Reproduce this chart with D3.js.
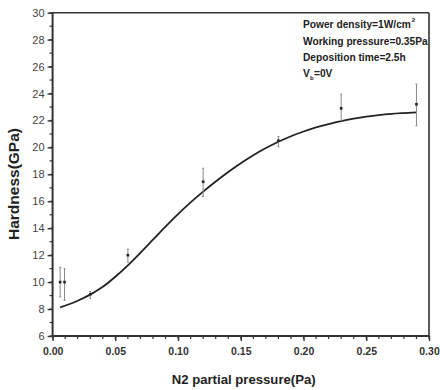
<!DOCTYPE html>
<html><head><meta charset="utf-8">
<script src="https://cdn.jsdelivr.net/npm/d3@7"></script>
<style>body{margin:0;background:#fff;}svg{display:block;}</style>
</head><body>
<svg id="c" width="440" height="390"></svg>
<script>
// Measured data points (N2 partial pressure, hardness, error half-widths)
const pressure = [0.006, 0.0095, 0.03, 0.06, 0.12, 0.18, 0.23, 0.29];
const hardness = [10.0, 10.0, 9.1, 12.0, 17.45, 20.5, 22.9, 23.2];
const errUp    = [1.1, 1.0, 0.2, 0.45, 1.0, 0.3, 1.05, 1.5];
const errDown  = [1.1, 1.35, 0.3, 0.5, 1.1, 0.45, 0.9, 1.6];
// Fitted curve
const fitX = [0.006,0.02,0.03,0.04,0.05,0.06,0.07,0.08,0.09,0.10,0.11,0.12,0.13,0.14,0.15,0.16,0.17,0.18,0.19,0.20,0.21,0.22,0.23,0.24,0.25,0.26,0.27,0.28,0.29];
const fitY = [8.12,8.62,9.07,9.65,10.4,11.25,12.18,13.15,14.12,15.05,15.92,16.72,17.47,18.18,18.83,19.42,19.95,20.42,20.83,21.18,21.48,21.73,21.95,22.13,22.28,22.4,22.49,22.55,22.6];
const xTicks = [0.00,0.05,0.10,0.15,0.20,0.25,0.30];
const yTicks = [6,8,10,12,14,16,18,20,22,24,26,28,30];
const notes = ["Power density=1W/cm", "Working pressure=0.35Pa", "Deposition time=2.5h", "V"];

const svg = d3.select("#c");
const L = 52.6, R = 429, T = 12.7, B = 336;
const x = d3.scaleLinear().domain([0, 0.30]).range([L, R]);
const y = d3.scaleLinear().domain([6, 30]).range([B, T]);
const axCol = "#333";
const nf = "Liberation Sans, Arial, sans-serif";

// minor ticks
const xMinor = d3.range(0, 31).map(i => i / 100);
const yMinor = d3.range(6, 31, 1);
svg.append("g").selectAll("line").data(xMinor).join("line")
  .attr("x1", d => x(d)).attr("x2", d => x(d)).attr("y1", B).attr("y2", B + 3)
  .attr("stroke", axCol).attr("stroke-width", 1.2);
svg.append("g").selectAll("line").data(yMinor).join("line")
  .attr("x1", L - 3).attr("x2", L).attr("y1", d => y(d)).attr("y2", d => y(d))
  .attr("stroke", axCol).attr("stroke-width", 1.2);

// axes
const xAxis = d3.axisBottom(x).tickValues(xTicks).tickFormat(d3.format(".2f")).tickSize(5).tickPadding(7);
const yAxis = d3.axisLeft(y).tickValues(yTicks).tickFormat(d3.format("d")).tickSize(5).tickPadding(3);
const gx = svg.append("g").attr("transform", `translate(0,${B})`).call(xAxis);
const gy = svg.append("g").attr("transform", `translate(${L},0)`).call(yAxis);
gx.select(".domain").remove(); gy.select(".domain").remove();
gx.selectAll(".tick line").attr("stroke", axCol).attr("stroke-width", 1.4);
gy.selectAll(".tick line").attr("stroke", axCol).attr("stroke-width", 1.4);
gx.selectAll(".tick text").attr("font-family", nf)
  .attr("font-size", 10.5).attr("font-weight", "bold").attr("fill", "#333");
gy.selectAll(".tick text").attr("font-family", nf)
  .attr("font-size", 11).attr("fill", "#444");

// frame
svg.append("line").attr("x1", L).attr("x2", L).attr("y1", T).attr("y2", B + 0.5).attr("stroke", axCol).attr("stroke-width", 2);
svg.append("line").attr("x1", L).attr("x2", R).attr("y1", B).attr("y2", B).attr("stroke", axCol).attr("stroke-width", 2);
svg.append("line").attr("x1", L).attr("x2", R).attr("y1", T).attr("y2", T).attr("stroke", axCol).attr("stroke-width", 1.6);
svg.append("line").attr("x1", R).attr("x2", R).attr("y1", T).attr("y2", B).attr("stroke", axCol).attr("stroke-width", 1.6);

// fit curve
const fit = fitX.map((d, i) => [d, fitY[i]]);
svg.append("path").datum(fit)
  .attr("d", d3.line().x(d => x(d[0])).y(d => y(d[1])).curve(d3.curveMonotoneX))
  .attr("fill", "none").attr("stroke", "#222").attr("stroke-width", 1.8);

// error bars
const pts = pressure.map((p, i) => ({p, h: hardness[i], up: errUp[i], dn: errDown[i]}));
const eb = svg.append("g");
eb.selectAll("line.v").data(pts).join("line").attr("class", "v")
  .attr("x1", d => x(d.p)).attr("x2", d => x(d.p))
  .attr("y1", d => y(d.h + d.up)).attr("y2", d => y(d.h - d.dn))
  .attr("stroke", "#888").attr("stroke-width", 1);
eb.selectAll("line.t").data(pts).join("line").attr("class", "t")
  .attr("x1", d => x(d.p) - 1).attr("x2", d => x(d.p) + 1)
  .attr("y1", d => y(d.h + d.up)).attr("y2", d => y(d.h + d.up))
  .attr("stroke", "#888").attr("stroke-width", 1);
eb.selectAll("line.b").data(pts).join("line").attr("class", "b")
  .attr("x1", d => x(d.p) - 1).attr("x2", d => x(d.p) + 1)
  .attr("y1", d => y(d.h - d.dn)).attr("y2", d => y(d.h - d.dn))
  .attr("stroke", "#888").attr("stroke-width", 1);
eb.selectAll("rect").data(pts).join("rect")
  .attr("x", d => x(d.p) - 1.3).attr("y", d => y(d.h) - 1.3)
  .attr("width", 2.6).attr("height", 2.6).attr("fill", "#222");

// axis titles
svg.append("text").attr("x", 243.7).attr("y", 384).attr("text-anchor", "middle")
  .attr("font-family", nf).attr("font-size", 13).attr("font-weight", "bold")
  .attr("fill", "#222").attr("textLength", 144).attr("lengthAdjust", "spacingAndGlyphs")
  .text("N2 partial pressure(Pa)");
svg.append("text").attr("transform", "translate(19,184) rotate(-90)").attr("text-anchor", "middle")
  .attr("font-family", nf).attr("font-size", 14).attr("font-weight", "bold")
  .attr("fill", "#222").attr("textLength", 112).attr("lengthAdjust", "spacingAndGlyphs")
  .text("Hardness(GPa)");

// annotations
const ny = [28, 44.5, 61, 77];
const fs = 10.2;
notes.forEach((t, i) => {
  const tx = svg.append("text").attr("x", 303).attr("y", ny[i])
    .attr("font-family", nf).attr("font-size", fs).attr("font-weight", "bold").attr("fill", "#222")
    .text(t);
  const w = tx.node().getComputedTextLength();
  if (i === 0) {
    svg.append("text").attr("x", 303 + w + 0.8).attr("y", ny[i] - 6)
      .attr("font-family", nf).attr("font-size", 6).attr("font-weight", "bold").attr("fill", "#222")
      .text("2");
  } else if (i === 3) {
    svg.append("text").attr("x", 303 + w + 0.3).attr("y", ny[i] + 3)
      .attr("font-family", nf).attr("font-size", 6).attr("font-weight", "bold").attr("fill", "#222")
      .text("b");
    svg.append("text").attr("x", 303 + w + 4.2).attr("y", ny[i])
      .attr("font-family", nf).attr("font-size", fs).attr("font-weight", "bold").attr("fill", "#222")
      .text("=0V");
  }
});
</script>
</body></html>
